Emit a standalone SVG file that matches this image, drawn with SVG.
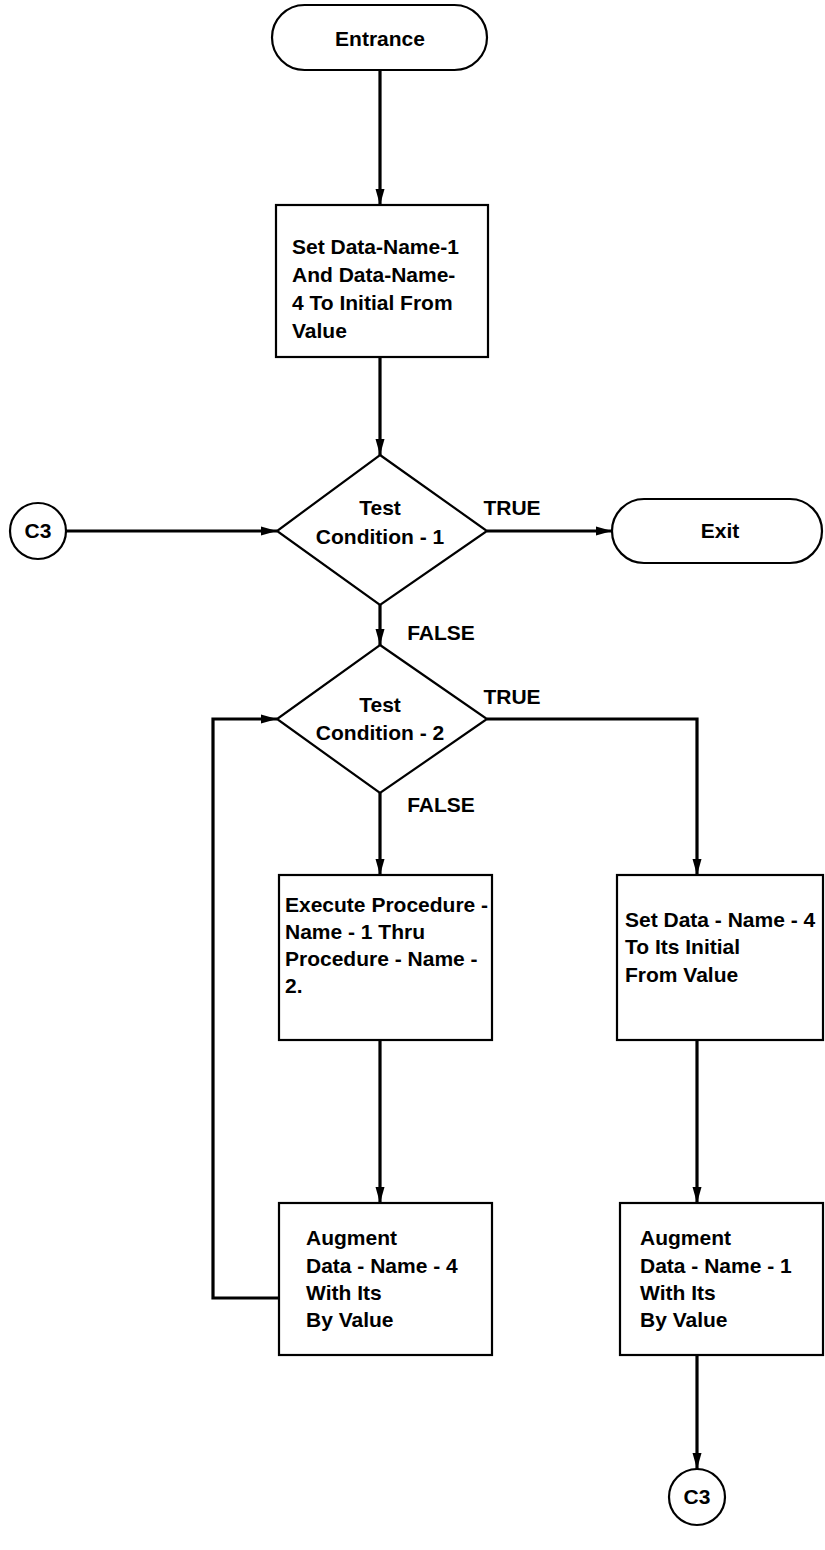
<svg xmlns="http://www.w3.org/2000/svg" width="825" height="1550" viewBox="0 0 825 1550">
  <style>
    .shape { fill: #fff; stroke: #000; stroke-width: 2.2; }
    .wire { fill: none; stroke: #000; stroke-width: 3.2; }
    text { font-family: "Liberation Sans", Arial, sans-serif; font-weight: bold; font-size: 21px; fill: #000; }
    .c { text-anchor: middle; }
  </style>
  <defs>
    <marker id="arrow" markerUnits="userSpaceOnUse" markerWidth="18" markerHeight="10" refX="16" refY="5" orient="auto">
      <path d="M0,0.5 L16,5 L0,9.5 z" fill="#000"/>
    </marker>
  </defs>
  <rect width="825" height="1550" fill="#fff"/>

  <g id="connectors">
    <path class="wire" d="M380,70 V205" marker-end="url(#arrow)"/>
    <path class="wire" d="M380,357 V455" marker-end="url(#arrow)"/>
    <path class="wire" d="M66,531 H277" marker-end="url(#arrow)"/>
    <path class="wire" d="M487,531 H612" marker-end="url(#arrow)"/>
    <path class="wire" d="M380,605 V645" marker-end="url(#arrow)"/>
    <path class="wire" d="M380,793 V875" marker-end="url(#arrow)"/>
    <path class="wire" d="M487,719 H697 V875" marker-end="url(#arrow)"/>
    <path class="wire" d="M380,1040 V1203" marker-end="url(#arrow)"/>
    <path class="wire" d="M697,1040 V1203" marker-end="url(#arrow)"/>
    <path class="wire" d="M279,1298 H213 V719 H277" marker-end="url(#arrow)"/>
    <path class="wire" d="M697,1355 V1469" marker-end="url(#arrow)"/>
    <text x="512" y="515" class="c">TRUE</text>
    <text x="441" y="640" class="c">FALSE</text>
    <text x="512" y="704" class="c">TRUE</text>
    <text x="441" y="812" class="c">FALSE</text>
  </g>

  <g id="entrance">
    <rect class="shape" x="272" y="5" width="215" height="65" rx="32.5"/>
    <text x="380" y="46" class="c">Entrance</text>
  </g>

  <g id="set-initial">
    <rect class="shape" x="276" y="205" width="212" height="152"/>
    <text x="292" y="254">Set Data-Name-1</text>
    <text x="292" y="282">And Data-Name-</text>
    <text x="292" y="310">4 To Initial From</text>
    <text x="292" y="338">Value</text>
  </g>

  <g id="test-1">
    <polygon class="shape" points="380,455 487,531 380,605 277,531"/>
    <text x="380" y="515" class="c">Test</text>
    <text x="380" y="544" class="c">Condition - 1</text>
  </g>

  <g id="c3-in">
    <circle class="shape" cx="38" cy="531" r="28"/>
    <text x="38" y="538" class="c">C3</text>
  </g>

  <g id="exit">
    <rect class="shape" x="612" y="499" width="210" height="64" rx="32"/>
    <text x="720" y="538" class="c">Exit</text>
  </g>

  <g id="test-2">
    <polygon class="shape" points="380,645 487,719 380,793 277,719"/>
    <text x="380" y="712" class="c">Test</text>
    <text x="380" y="740" class="c">Condition - 2</text>
  </g>

  <g id="execute">
    <rect class="shape" x="279" y="875" width="213" height="165"/>
    <text x="285" y="912">Execute Procedure -</text>
    <text x="285" y="939">Name - 1 Thru</text>
    <text x="285" y="966">Procedure - Name -</text>
    <text x="285" y="993">2.</text>
  </g>

  <g id="reset-4">
    <rect class="shape" x="617" y="875" width="206" height="165"/>
    <text x="625" y="927">Set Data - Name - 4</text>
    <text x="625" y="954">To Its Initial</text>
    <text x="625" y="982">From Value</text>
  </g>

  <g id="augment-4">
    <rect class="shape" x="279" y="1203" width="213" height="152"/>
    <text x="306" y="1245">Augment</text>
    <text x="306" y="1273">Data - Name - 4</text>
    <text x="306" y="1300">With Its</text>
    <text x="306" y="1327">By Value</text>
  </g>

  <g id="augment-1">
    <rect class="shape" x="620" y="1203" width="203" height="152"/>
    <text x="640" y="1245">Augment</text>
    <text x="640" y="1273">Data - Name - 1</text>
    <text x="640" y="1300">With Its</text>
    <text x="640" y="1327">By Value</text>
  </g>

  <g id="c3-out">
    <circle class="shape" cx="697" cy="1497" r="28"/>
    <text x="697" y="1504" class="c">C3</text>
  </g>
</svg>
